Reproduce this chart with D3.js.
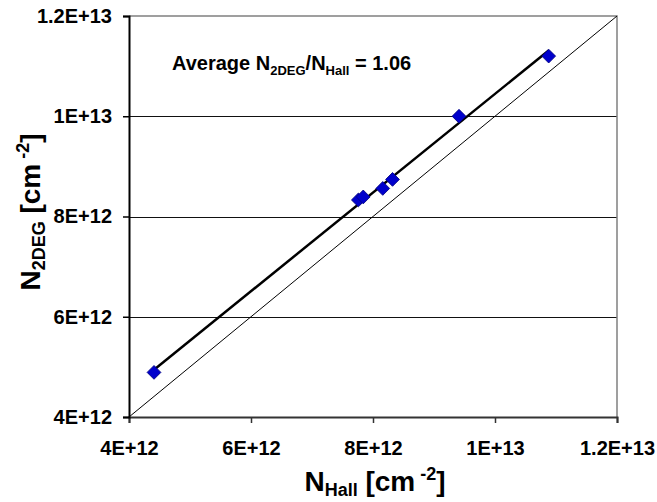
<!DOCTYPE html>
<html>
<head>
<meta charset="utf-8">
<script src="https://cdn.jsdelivr.net/npm/d3@7"></script>
<style>
  body { margin: 0; background: white; }
  text { font-family: "Liberation Sans", Arial, sans-serif; font-weight: bold; }
</style>
</head>
<body>
<div id="canvas"></div>
<script>
// Data (cm^-2)
var nHall = [4.41e12, 7.76e12, 7.84e12, 8.16e12, 8.32e12, 9.41e12, 10.88e12];
var n2deg = [4.89e12, 8.33e12, 8.39e12, 8.56e12, 8.74e12, 10.0e12, 11.2e12];
var tickValues = [4e12, 6e12, 8e12, 10e12, 12e12];
var tickLabels = ["4E+12", "6E+12", "8E+12", "1E+13", "1.2E+13"];
var averageRatio = "1.06";

// Dimensions
var w = 657;
var h = 502;
var margin = {top: 16, right: 40, bottom: 85, left: 129};

var svg = d3.select("#canvas")
    .append("svg")
    .attr("width", w)
    .attr("height", h)
    .style("background-color", "white");

// Scales
var x_scale = d3.scaleLinear()
    .domain([4e12, 12e12])
    .range([margin.left, w - margin.right]);

var y_scale = d3.scaleLinear()
    .domain([4e12, 12e12])
    .range([h - margin.bottom, margin.top]);

var labelFor = d => tickLabels[tickValues.indexOf(d)];

// Horizontal gridlines
svg.append("g")
    .selectAll("line")
    .data(tickValues.slice(1, 4))
    .join("line")
    .attr("x1", x_scale(4e12))
    .attr("x2", x_scale(12e12))
    .attr("y1", d => Math.round(y_scale(d)) + 0.5)
    .attr("y2", d => Math.round(y_scale(d)) + 0.5)
    .attr("stroke", "#111")
    .attr("stroke-width", 1);

// Plot border (top + right)
svg.append("path")
    .attr("d", `M${x_scale(4e12)},${y_scale(12e12)}H${x_scale(12e12)}V${y_scale(4e12)}`)
    .attr("fill", "none")
    .attr("stroke", "#808080")
    .attr("stroke-width", 1.5);

// y = x reference line
svg.append("line")
    .attr("x1", x_scale(4e12))
    .attr("y1", y_scale(4e12))
    .attr("x2", x_scale(12e12))
    .attr("y2", y_scale(12e12))
    .attr("stroke", "black")
    .attr("stroke-width", 1);

// Linear fit through the points
function linearRegression(x, y) {
    var n = x.length;
    var sumX = d3.sum(x);
    var sumY = d3.sum(y);
    var sumXY = d3.sum(x.map((xi, i) => xi * y[i]));
    var sumXX = d3.sum(x.map(xi => xi * xi));
    var slope = (n * sumXY - sumX * sumY) / (n * sumXX - sumX * sumX);
    var intercept = (sumY - slope * sumX) / n;
    return {slope, intercept};
}
var fit = linearRegression(nHall, n2deg);
var xMin = d3.min(nHall), xMax = d3.max(nHall);
svg.append("line")
    .attr("x1", x_scale(xMin))
    .attr("y1", y_scale(fit.slope * xMin + fit.intercept))
    .attr("x2", x_scale(xMax))
    .attr("y2", y_scale(fit.slope * xMax + fit.intercept))
    .attr("stroke", "black")
    .attr("stroke-width", 2.5);

// Axes
var xAxis = svg.append("g")
    .attr("transform", `translate(0,${y_scale(4e12)})`)
    .call(d3.axisBottom(x_scale).tickValues(tickValues).tickFormat(labelFor).tickSizeOuter(0).tickSize(6).tickPadding(18));
xAxis.select(".domain").attr("stroke", "#333").attr("stroke-width", 2);
xAxis.selectAll(".tick line").attr("stroke", "#333").attr("stroke-width", 1.5);
xAxis.selectAll("text")
    .attr("font-family", "Liberation Sans, Arial, sans-serif")
    .attr("font-weight", "bold")
    .style("font-size", "20px")
    .attr("fill", "black");

var yAxis = svg.append("g")
    .attr("transform", `translate(${x_scale(4e12)},0)`)
    .call(d3.axisLeft(y_scale).tickValues(tickValues).tickFormat(labelFor).tickSizeOuter(0).tickSize(6).tickPadding(11));
yAxis.select(".domain").attr("stroke", "black").attr("stroke-width", 2);
yAxis.selectAll(".tick line").attr("stroke", "black").attr("stroke-width", 1.5);
yAxis.selectAll("text")
    .attr("font-family", "Liberation Sans, Arial, sans-serif")
    .attr("font-weight", "bold")
    .style("font-size", "20px")
    .attr("fill", "black");

// Data points (blue diamonds)
svg.append("g")
    .selectAll("path")
    .data(nHall.map((d, i) => [d, n2deg[i]]))
    .join("path")
    .attr("d", d3.symbol(d3.symbolSquare, 95))
    .attr("transform", d => `translate(${x_scale(d[0])},${y_scale(d[1])}) rotate(45)`)
    .attr("fill", "#0000cc")
    .attr("stroke", "#000080")
    .attr("stroke-width", 0.8);

// Annotation
var note = svg.append("text")
    .attr("x", 172)
    .attr("y", 70)
    .style("font-size", "20px");
note.append("tspan").text("Average N");
note.append("tspan").attr("dy", 5).style("font-size", "13px").text("2DEG");
note.append("tspan").attr("dy", -5).text("/N");
note.append("tspan").attr("dy", 5).style("font-size", "13px").text("Hall");
note.append("tspan").attr("dy", -5).text(" = " + averageRatio);

// x-axis label
var xLabel = svg.append("text")
    .attr("x", 375)
    .attr("y", 491)
    .attr("text-anchor", "middle")
    .style("font-size", "28px");
xLabel.append("tspan").text("N");
xLabel.append("tspan").attr("dy", 5).style("font-size", "18px").text("Hall");
xLabel.append("tspan").attr("dy", -5).text(" [cm");
xLabel.append("tspan").attr("dy", -11).style("font-size", "18px").text(" -2");
xLabel.append("tspan").attr("dy", 11).text("]");

// y-axis label
var yLabel = svg.append("text")
    .attr("transform", "translate(40,212) rotate(-90)")
    .attr("text-anchor", "middle")
    .style("font-size", "28px");
yLabel.append("tspan").text("N");
yLabel.append("tspan").attr("dy", 5).style("font-size", "18px").text("2DEG");
yLabel.append("tspan").attr("dy", -5).text(" [cm");
yLabel.append("tspan").attr("dy", -11).style("font-size", "18px").text(" -2");
yLabel.append("tspan").attr("dy", 11).text("]");
</script>
</body>
</html>
